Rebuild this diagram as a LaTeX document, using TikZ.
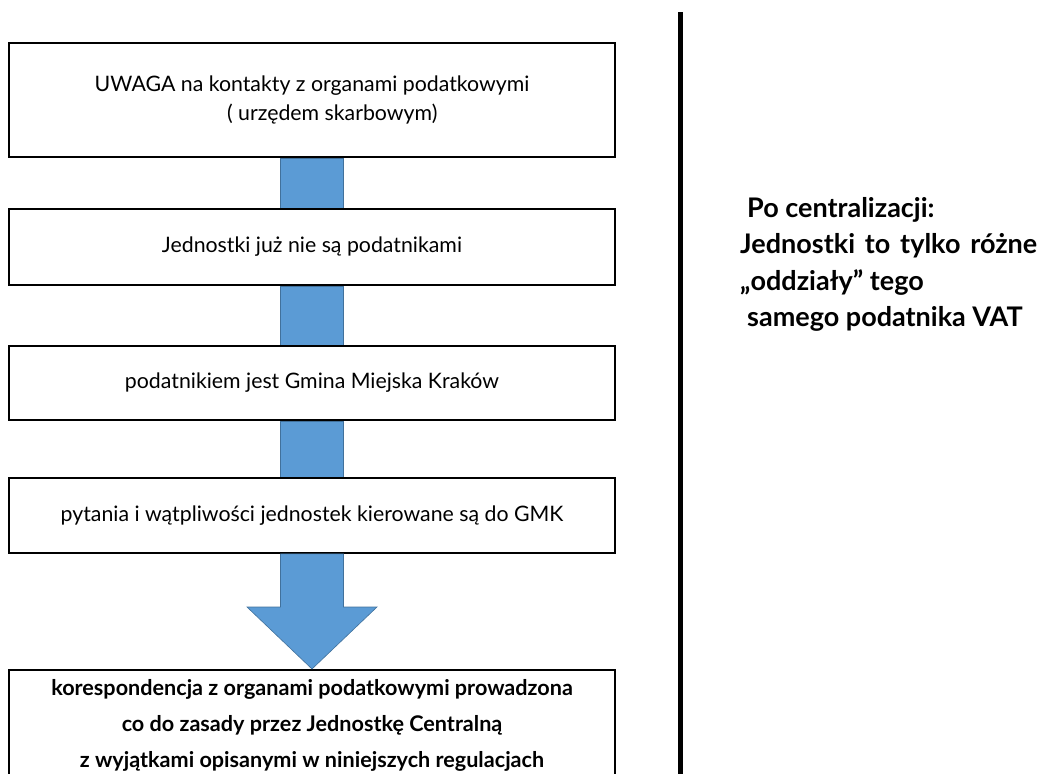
\documentclass[tikz,border=0pt]{standalone}
\usepackage{fontspec}
\setmainfont{Lato}
\usetikzlibrary{backgrounds}
\definecolor{barblue}{HTML}{5B9BD5}
\definecolor{baredge}{HTML}{41719C}
\tikzset{
  stepbox/.style={draw=black,line width=1.6pt,fill=white,minimum width=606pt,
    inner sep=0pt,font=\fontsize{21.3}{29}\selectfont,align=center},
  bar/.style={fill=barblue,draw=baredge,line width=0.6pt}
}
\begin{document}
\begin{tikzpicture}[x=1pt,y=-1pt]
\useasboundingbox (0,0) rectangle (1042,774);
\node[stepbox,line width=2.6pt,minimum height=114pt] (uwaga) at (312,100)
  {UWAGA na kontakty z organami podatkowymi\\ \hspace*{1.9em}( urzędem skarbowym)};
\node[stepbox,minimum height=76pt] (jedn) at (312,247) {Jednostki już nie są podatnikami};
\node[stepbox,minimum height=74pt] (gmk) at (312,383) {podatnikiem jest Gmina Miejska Kraków};
\node[stepbox,minimum height=75pt] (pyt) at (312,515.5) {pytania i wątpliwości jednostek kierowane są do GMK};
\node[stepbox,minimum height=140pt,anchor=north] (kor) at (312,669) {};
\node[anchor=north,align=center,font=\bfseries\fontsize{21.6}{36}\selectfont,inner sep=0pt]
  (kortxt) at (312,679) {korespondencja z organami podatkowymi prowadzona\\
  co do zasady przez Jednostkę Centralną\\
  z wyjątkami opisanymi w niniejszych regulacjach};
% connectors
\begin{scope}[on background layer]
\draw[bar] ([xshift=-31.5pt]uwaga.south) rectangle ([xshift=31.5pt]jedn.north);
\draw[bar] ([xshift=-31.5pt]jedn.south) rectangle ([xshift=31.5pt]gmk.north);
\draw[bar] ([xshift=-31.5pt]gmk.south) rectangle ([xshift=31.5pt]pyt.north);
\end{scope}
\draw[bar] ([xshift=-31.5pt]pyt.south) -- ([xshift=-31.5pt,yshift=62pt]kor.north)
  -- ([xshift=-65pt,yshift=62pt]kor.north) -- (kor.north)
  -- ([xshift=65pt,yshift=62pt]kor.north) -- ([xshift=31.5pt,yshift=62pt]kor.north)
  -- ([xshift=31.5pt]pyt.south) -- cycle;
% separator
\coordinate (septop) at (680,12);
\coordinate (sepbot) at (680,780);
\draw[line width=5pt] (septop) -- (sepbot);
\node[anchor=north west,align=left,inner sep=0pt,font=\bfseries\fontsize{27}{36.5}\selectfont]
  (central) at (740,197) {\hspace*{7pt}Po centralizacji:\\
  \makebox[297pt][s]{Jednostki to tylko różne}\\
  „oddziały” tego\\
  \hspace*{7pt}samego podatnika VAT};
\end{tikzpicture}
\end{document}
